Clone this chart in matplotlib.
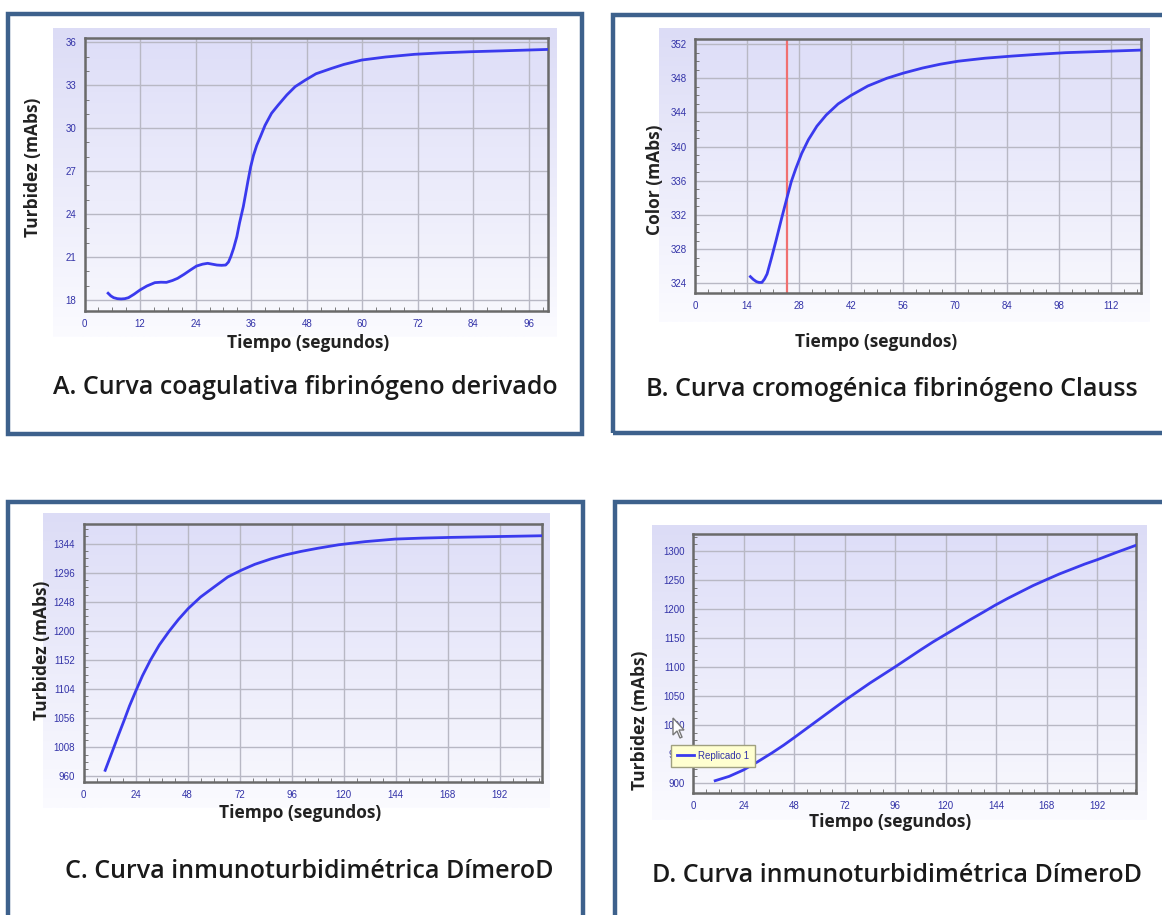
import numpy as np
import matplotlib
matplotlib.use("Agg")
import matplotlib.pyplot as plt
from matplotlib.patches import Rectangle, Polygon

W, H = 1162, 915

# --- data ---
# A. coagulative curve
a_time = [5.1, 5.7, 6.3, 7.1, 7.9, 8.7, 9.5, 10.7, 12.0, 13.5, 15.2, 16.5, 17.7, 19.0, 20.1,
          21.5, 23.0, 24.2, 25.5, 26.6, 27.6, 28.6, 29.6, 30.5, 31.1, 31.6, 32.2, 32.9, 33.5,
          34.3, 34.8, 35.3, 35.9, 36.5, 37.2, 38.0, 39.0, 40.4, 41.8, 43.7, 45.5, 47.7, 50.0,
          53.4, 56.0, 59.9, 65.0, 71.3, 77.0, 83.4, 90.0, 95.0, 100.0]
a_turb = [18.47, 18.28, 18.16, 18.09, 18.07, 18.09, 18.16, 18.4, 18.7, 18.98, 19.21, 19.24, 19.23,
          19.36, 19.51, 19.79, 20.12, 20.37, 20.5, 20.56, 20.5, 20.44, 20.42, 20.44, 20.65, 21.03,
          21.6, 22.42, 23.4, 24.52, 25.4, 26.3, 27.31, 28.1, 28.8, 29.41, 30.2, 31.04, 31.6, 32.32,
          32.9, 33.36, 33.8, 34.18, 34.45, 34.76, 34.97, 35.16, 35.26, 35.34, 35.4, 35.45, 35.5]
a_xticks = [0, 12, 24, 36, 48, 60, 72, 84, 96]
a_yticks = [18, 21, 24, 27, 30, 33, 36]

# B. chromogenic curve
b_time = [14.9, 15.7, 16.5, 17.2, 18.0, 18.7, 19.4, 20.6, 21.8, 23.3, 24.8, 25.9, 27.1, 28.7,
          30.5, 32.8, 35.3, 38.5, 42.0, 46.5, 51.6, 56.0, 61.2, 66.0, 70.8, 78.0, 85.3, 92.0,
          99.7, 110.0, 119.9]
b_color = [324.78, 324.45, 324.2, 324.1, 324.1, 324.5, 325.1, 327.0, 329.0, 331.6, 334.1, 335.9,
           337.4, 339.2, 340.8, 342.4, 343.7, 345.0, 346.0, 347.1, 348.0, 348.6, 349.2, 349.65,
           350.0, 350.35, 350.6, 350.8, 351.0, 351.15, 351.3]
b_marker = 24.8
b_xticks = [0, 14, 28, 42, 56, 70, 84, 98, 112]
b_yticks = [324, 328, 332, 336, 340, 344, 348, 352]

# C. immunoturbidimetric curve
c_time = [10.0, 11.7, 13.5, 16.0, 18.7, 21.2, 23.9, 27.2, 30.9, 35.0, 39.6, 43.8, 48.3, 54.0,
          60.4, 66.5, 72.6, 79.0, 86.5, 93.0, 100.3, 108.0, 117.7, 130.0, 143.7, 156.0, 169.8,
          190.0, 211.5]
c_turb = [969.9, 986, 1003, 1027, 1052, 1076, 1099, 1126, 1152, 1177, 1200, 1219, 1237,
          1256, 1273, 1289, 1300, 1310, 1319, 1325.5, 1331.3, 1336.5, 1342.3, 1347.5, 1351.7,
          1353.3, 1354.5, 1355.8, 1357.2]
c_xticks = [0, 24, 48, 72, 96, 120, 144, 168, 192]
c_yticks = [960, 1008, 1056, 1104, 1152, 1200, 1248, 1296, 1344]

# D. immunoturbidimetric curve
d_time = [10.4, 17.0, 23.8, 30.5, 37.6, 43.0, 48.0, 54.0, 60.0, 66.0, 72.0, 78.0, 84.0, 90.0,
          96.0, 102.0, 108.0, 114.0, 120.0, 126.0, 132.0, 138.0, 143.4, 149.5, 155.5, 161.5,
          167.7, 174.0, 180.0, 186.0, 192.0, 201.0, 209.9]
d_turb = [904.6, 912, 923, 937, 953, 966, 979, 995, 1011, 1027, 1043, 1058, 1073, 1087,
          1101, 1115.5, 1130, 1144, 1157, 1170, 1183, 1195.5, 1207, 1219, 1230, 1241,
          1251, 1261, 1269.5, 1278, 1285.6, 1298, 1309.8]
d_xticks = [0, 24, 48, 72, 96, 120, 144, 168, 192]
d_yticks = [900, 950, 1000, 1050, 1100, 1150, 1200, 1250, 1300]

titles = ["A. Curva coagulativa fibrinógeno derivado",
          "B. Curva cromogénica fibrinógeno Clauss",
          "C. Curva inmunoturbidimétrica DímeroD",
          "D. Curva inmunoturbidimétrica DímeroD"]

fig = plt.figure(figsize=(W / 100, H / 100), dpi=100)
fig.patch.set_facecolor("white")

TICK_FONT = ["Liberation Sans", "DejaVu Sans"]
LABEL_FONT = ["Open Sans", "DejaVu Sans"]
BLUE = "#3a3aee"


def fx(x):
    return x / W


def fy(y):
    return 1 - y / H


def frame(x0, y0, x1, y1):
    fig.add_artist(Rectangle((fx(x0), fy(y1)), fx(x1 - x0), (y1 - y0) / H,
                             transform=fig.transFigure, fill=False,
                             edgecolor="#3d618c", linewidth=3.2, zorder=0))


def gradient_box(x0, y0, x1, y1):
    bg = fig.add_axes([fx(x0), fy(y1), fx(x1 - x0), (y1 - y0) / H], zorder=-1)
    g = np.linspace(0, 1, 256).reshape(-1, 1)
    cmap = matplotlib.colors.LinearSegmentedColormap.from_list("bg", ["#dcdcf6", "#fbfbff"])
    bg.imshow(g, aspect="auto", cmap=cmap, extent=[0, 1, 0, 1], origin="upper")
    bg.axis("off")


def chart(box, xlim, ylim, xticks, yticks, xminor, yminor):
    x0, y0, x1, y1 = box
    ax = fig.add_axes([fx(x0), fy(y1), fx(x1 - x0), (y1 - y0) / H], zorder=1)
    g = np.linspace(0, 1, 256).reshape(-1, 1)
    cmap = matplotlib.colors.LinearSegmentedColormap.from_list("pa", ["#dedef8", "#f7f7fd"])
    ax.imshow(g, aspect="auto", cmap=cmap, origin="upper",
              extent=[xlim[0], xlim[1], ylim[0], ylim[1]], zorder=0)
    ax.set_xlim(*xlim)
    ax.set_ylim(*ylim)
    ax.set_xticks(xticks)
    ax.set_yticks(yticks)
    ax.set_xticks(np.arange(xlim[0], xlim[1], xminor), minor=True)
    ax.set_yticks(np.arange(yticks[0], ylim[1], yminor), minor=True)
    ax.grid(True, which="major", color="#b8b8c4", linewidth=1.0)
    ax.tick_params(which="major", length=0, pad=6, labelsize=7, labelcolor="#3333a8")
    ax.tick_params(which="minor", direction="in", length=3, color="#666666")
    for lab in ax.get_xticklabels() + ax.get_yticklabels():
        lab.set_family(TICK_FONT)
    for s in ax.spines.values():
        s.set_color("#6a6a6a")
        s.set_linewidth(1.8)
    return ax


def label(x, y, text, rot=0, size=12.5):
    fig.text(fx(x), fy(y), text, rotation=rot, ha="center", va="center",
             fontsize=size, fontweight="bold", color="#222222", family=LABEL_FONT)


def title(x, y, text):
    fig.text(fx(x), fy(y), text, ha="center", va="center", fontsize=18,
             fontweight="semibold", color="#1a1a1a", family=LABEL_FONT)


# frames
frame(8, 14, 582, 434)
frame(613, 15, 1175, 433)
frame(8, 502, 583, 930)
frame(615, 502, 1175, 930)

# chart backgrounds
gradient_box(53, 28, 557, 337)
gradient_box(659, 28, 1150, 322)
gradient_box(43, 513, 550, 808)
gradient_box(652, 525, 1147, 820)

# A
ax = chart((84.5, 37.7, 548.4, 310.7), (0, 100.2), (17.25, 36.32), a_xticks, a_yticks, 3, 1)
ax.plot(a_time, a_turb, color=BLUE, linewidth=2, zorder=3)
label(33, 167, "Turbidez (mAbs)", rot=90)
label(308, 343, "Tiempo (segundos)")
title(305, 388, titles[0])

# B
ax = chart((695, 39, 1141, 292.7), (0, 120), (322.9, 352.6), b_xticks, b_yticks, 3.5, 1)
ax.plot(b_time, b_color, color=BLUE, linewidth=2, zorder=3)
ax.axvline(b_marker, color="#f07070", linewidth=1.6, zorder=2)
label(655, 180, "Color (mAbs)", rot=90)
label(876, 342, "Tiempo (segundos)")
title(892, 389, titles[1])

# C
ax = chart((83.5, 524, 542, 782), (0, 211.5), (950.6, 1376.6), c_xticks, c_yticks, 6, 12)
ax.plot(c_time, c_turb, color=BLUE, linewidth=2, zorder=3)
label(42, 650, "Turbidez (mAbs)", rot=90)
label(300, 813, "Tiempo (segundos)")
title(309, 871, titles[2])

# D
ax = chart((693.3, 534, 1136.4, 792.7), (0, 210.6), (883.9, 1329.9), d_xticks, d_yticks, 6, 12.5)
ax.plot(d_time, d_turb, color=BLUE, linewidth=2, zorder=3, label="Replicado 1")
leg = ax.legend(loc="upper left", bbox_to_anchor=(fx(666), fy(740)), bbox_transform=fig.transFigure,
                fontsize=7, handlelength=1.8, borderpad=0.6, handletextpad=0.4,
                fancybox=False, framealpha=1)
leg.get_frame().set_facecolor("#ffffd0")
leg.get_frame().set_edgecolor("#a0a080")
for t in leg.get_texts():
    t.set_family(TICK_FONT)
    t.set_color("#3333a8")
leg.set_zorder(5)
# mouse cursor over the y tick label
cx, cy = 673, 718
cur = [(cx, cy), (cx, cy + 17), (cx + 4, cy + 13), (cx + 7, cy + 20), (cx + 9, cy + 19),
       (cx + 6, cy + 12), (cx + 11, cy + 12)]
fig.add_artist(Polygon([(fx(p), fy(q)) for p, q in cur], closed=True, transform=fig.transFigure,
                       facecolor="white", edgecolor="#777777", linewidth=1, zorder=6))
label(640, 720, "Turbidez (mAbs)", rot=90)
label(890, 822, "Tiempo (segundos)")
title(897, 876, titles[3])

fig.savefig("out.png", dpi=100)
